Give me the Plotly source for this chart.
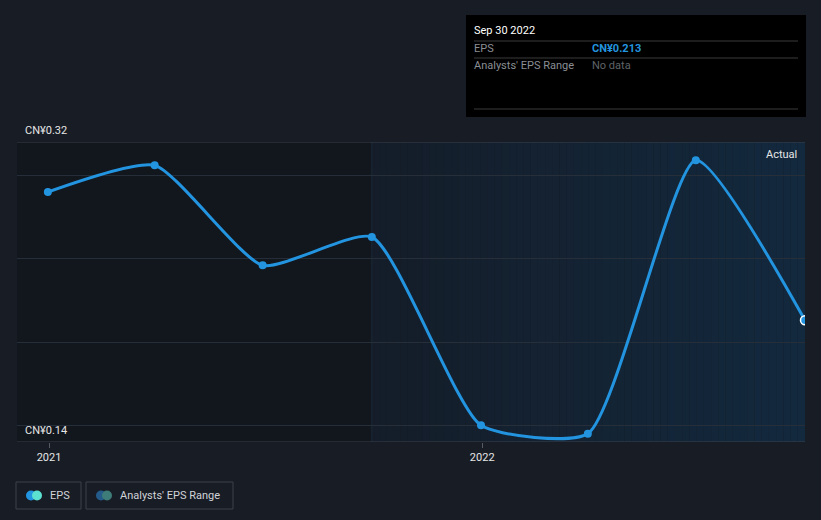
import plotly.graph_objects as go
import pandas as pd

# ---- data ----
dates = ["2020-12-31", "2021-03-31", "2021-06-30", "2021-09-30",
         "2021-12-31", "2022-03-31", "2022-06-30", "2022-09-30"]
eps = [0.290, 0.306, 0.246, 0.263, 0.150, 0.145, 0.309, 0.213]
year_ticks = ["2021-01-01", "2022-01-01"]
year_labels = ["2021", "2022"]
grid_vals = [0.15, 0.20, 0.25, 0.30]
y_min, y_max = 0.14, 0.32
x_start, x_end = "2020-12-05", "2022-09-30"
forecast_split = "2021-09-30"

W, H = 821, 520
L, R, T, B = 17, 16, 142, 78
BLUE = "#2394df"
BG = "#181c25"

fig = go.Figure()

fig.add_trace(go.Scatter(
    x=dates, y=eps, mode="lines",
    line=dict(color=BLUE, width=3, shape="spline", smoothing=0.55),
    showlegend=False, hoverinfo="skip", cliponaxis=True))
fig.add_trace(go.Scatter(
    x=dates[:-1], y=eps[:-1], mode="markers",
    marker=dict(size=8, color=BLUE), showlegend=False, hoverinfo="skip", cliponaxis=False))
fig.add_trace(go.Scatter(
    x=[dates[-1]], y=[eps[-1]], mode="markers",
    marker=dict(size=9, color=BLUE, line=dict(color="white", width=1.5)),
    showlegend=False, hoverinfo="skip", cliponaxis=True))

shapes = []
# left darker region
shapes.append(dict(type="rect", xref="x", yref="paper", x0=x_start, x1=forecast_split,
                   y0=0, y1=1, fillcolor="#12161d", line_width=0, layer="below"))
# right gradient region
ts0 = pd.Timestamp(forecast_split)
ts1 = pd.Timestamp(x_end)
n = 60
c0 = (0x14, 0x1d, 0x29)
c1 = (0x13, 0x29, 0x3e)
for i in range(n):
    a = ts0 + (ts1 - ts0) * i / n
    b = ts0 + (ts1 - ts0) * (i + 1) / n
    f = (i + 0.5) / n
    c = tuple(int(round(c0[k] + (c1[k] - c0[k]) * f)) for k in range(3))
    shapes.append(dict(type="rect", xref="x", yref="paper", x0=a, x1=b, y0=0, y1=1,
                       fillcolor="rgb(%d,%d,%d)" % c, line_width=0, layer="below"))
# split line
shapes.append(dict(type="line", xref="x", yref="paper", x0=forecast_split, x1=forecast_split,
                   y0=0, y1=1, line=dict(color="#1c2a39", width=1), layer="below"))
# top & bottom border lines
shapes.append(dict(type="line", xref="paper", yref="y", x0=0, x1=1, y0=y_max, y1=y_max,
                   line=dict(color="#3b414b", width=1)))
shapes.append(dict(type="line", xref="paper", yref="y", x0=0, x1=1, y0=y_min, y1=y_min,
                   line=dict(color="#3b414b", width=1)))

def px_x(p):
    return (p - L) / (W - L - R)

def px_y(p):
    return 1 - (p - T) / (H - T - B)

# tooltip box
shapes.append(dict(type="rect", xref="paper", yref="paper", x0=px_x(466), x1=px_x(806),
                   y0=px_y(117), y1=px_y(15), fillcolor="#000000", line_width=0))
for yy in [41, 58, 109]:
    shapes.append(dict(type="line", xref="paper", yref="paper", x0=px_x(474), x1=px_x(798),
                       y0=px_y(yy), y1=px_y(yy), line=dict(color="#3a3a3a", width=1)))
# legend boxes
for x0, x1 in [(16, 81), (86, 233)]:
    shapes.append(dict(type="rect", xref="paper", yref="paper", x0=px_x(x0), x1=px_x(x1),
                       y0=px_y(509), y1=px_y(482), fillcolor="rgba(0,0,0,0)",
                       line=dict(color="#3a404a", width=1)))
# legend icons
for cx, col in [(31, BLUE), (37, "#5ce0d0"), (101, "#245b8a"), (107, "#3d7c78")]:
    shapes.append(dict(type="circle", xref="paper", yref="paper",
                       x0=px_x(cx - 5), x1=px_x(cx + 5), y0=px_y(500.5), y1=px_y(490.5),
                       fillcolor=col, line_width=0))

ann = []
def text(xp, yp, s, color, size=11, xanchor="left", bold=False):
    ann.append(dict(xref="paper", yref="paper", x=px_x(xp), y=px_y(yp), text=("<b>%s</b>" % s) if bold else s,
                    showarrow=False, xanchor=xanchor, yanchor="middle",
                    font=dict(color=color, size=size, family="Roboto")))

text(23, 130, "CN¥0.32", "#e6e6e6", 11)
text(23, 430, "CN¥0.14", "#e6e6e6", 11)
text(799, 154, "Actual", "#e6e6e6", 11, xanchor="right")
text(472, 31, "Sep 30 2022", "#ffffff", 11)
text(472, 49, "EPS", "#8a8e94", 11)
text(590, 49, "CN¥0.213", BLUE, 11, bold=True)
text(472, 66, "Analysts' EPS Range", "#8a8e94", 11)
text(590, 66, "No data", "#5f6368", 11)
text(48, 495.5, "EPS", "#d0d3d8", 11)
text(118, 495.5, "Analysts' EPS Range", "#d0d3d8", 11)

fig.update_layout(
    width=W, height=H,
    margin=dict(l=L, r=R, t=T, b=B),
    paper_bgcolor=BG, plot_bgcolor=BG,
    shapes=shapes, annotations=ann,
    xaxis=dict(range=[x_start, x_end], tickvals=year_ticks, ticktext=year_labels,
               showgrid=False, zeroline=False, ticks="outside", ticklen=5,
               tickcolor="#555b63", tickfont=dict(color="#e6e6e6", size=11, family="Roboto"),
               showline=False, fixedrange=True),
    yaxis=dict(range=[y_min, y_max], tickvals=grid_vals, showticklabels=False,
               gridcolor="#262e39", gridwidth=1, zeroline=False, showline=False, fixedrange=True),
    showlegend=False,
)

fig.write_html("out.html")
